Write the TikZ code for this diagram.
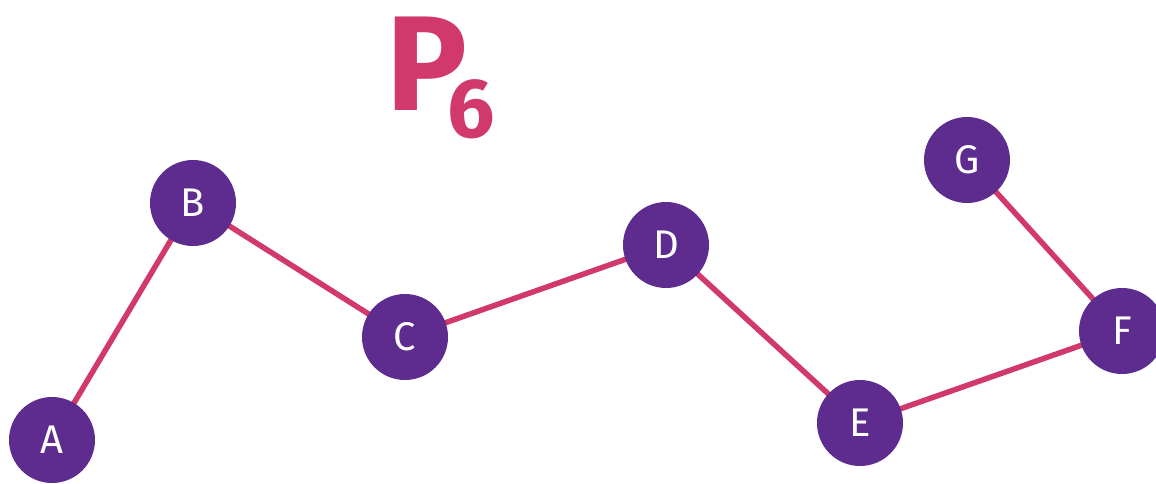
\documentclass[tikz,border=0pt]{standalone}
\usepackage{fontspec}
\setmainfont{Fira Sans}
\definecolor{vpurple}{HTML}{5E2B8F}
\definecolor{epink}{HTML}{D1386C}
\begin{document}
\begin{tikzpicture}[x=1pt,y=-1pt,
  vertex/.style={circle,fill=vpurple,minimum size=86pt,inner sep=0pt,text=white,font=\fontsize{40}{40}\selectfont},
  edge/.style={draw=epink,line width=5.5pt},
  titletext/.style={text=epink,inner sep=0pt,font=\fontsize{135}{135}\selectfont\bfseries}]
\useasboundingbox (0,0) rectangle (1156,484);
\begin{scope}
\clip (0,0) rectangle (1156,484);
\coordinate (pA) at (52,440);
\coordinate (pB) at (193,203);
\coordinate (pC) at (405,337);
\coordinate (pD) at (666,245);
\coordinate (pE) at (860,423);
\coordinate (pF) at (1122,331);
\coordinate (pG) at (967,160);
\draw[edge] (pA) -- (pB) -- (pC) -- (pD) -- (pE) -- (pF) -- (pG);
\node[vertex] (A) at (pA) {A};
\node[vertex] (B) at (pB) {B};
\node[vertex] (C) at (pC) {C};
\node[vertex] (D) at (pD) {D};
\node[vertex] (E) at (pE) {E};
\node[vertex] (F) at (pF) {F};
\node[vertex] (G) at (pG) {G};
\end{scope}
\node[titletext,anchor=base west] (title) at (386,111) {P\kern-20pt\raisebox{-27pt}{\fontsize{84}{84}\selectfont\bfseries 6}};
\end{tikzpicture}
\end{document}
